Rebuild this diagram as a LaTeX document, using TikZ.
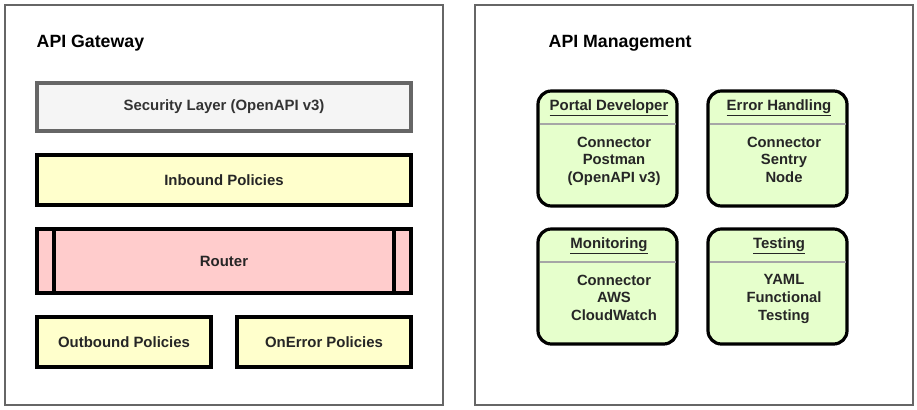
\documentclass[tikz,border=0pt]{standalone}
\usepackage{fontspec}
\setmainfont{Liberation Sans}
\usetikzlibrary{calc}
\begin{document}
\begin{tikzpicture}[x=0.75pt,y=-0.75pt,
  outer/.style={draw=black!60,line width=1.5pt,fill=white},
  layer/.style={draw=black,line width=2.4pt,font=\bfseries\fontsize{11.2}{12}\selectfont,text=black!85},
  card/.style={draw=black,line width=2.4pt,rounded corners=10pt},
  cardtitle/.style={font=\bfseries\fontsize{11.2}{12}\selectfont,text=black!85},
  cardbody/.style={font=\bfseries\fontsize{11.1}{13.3}\selectfont,align=center,text=black!85},
  heading/.style={font=\bfseries\fontsize{13.3}{15}\selectfont,anchor=west}]
\definecolor{cardfill}{HTML}{E6FFCC}
\definecolor{yel}{HTML}{FFFFCC}
\definecolor{pink}{HTML}{FFCCCC}
\definecolor{sec}{HTML}{F5F5F5}
\useasboundingbox (0,0) rectangle (917,410);
% outer panels
\draw[outer] (5,5) rectangle (443,405);
\draw[outer] (475,5) rectangle (913,405);
\node[heading] (gw) at (32,43) {API Gateway};
\node[heading] (mg) at (544,43) {API Management};
% gateway layers
\draw[layer,draw=black!60,fill=sec] (37,83) rectangle (411,131) node[midway,text=black!80] (secl) {Security Layer (OpenAPI v3)};
\draw[layer,fill=yel] (37,155) rectangle (411,205) node[midway] (inb) {Inbound Policies};
\draw[layer,fill=pink] (37,229) rectangle (411,293) node[midway] (rt) {Router};
\draw[line width=2.4pt] (54,229) -- (54,293) (394,229) -- (394,293);
\draw[layer,fill=yel] (37,317) rectangle (211,367) node[midway] (outb) {Outbound Policies};
\draw[layer,fill=yel] (237,317) rectangle (411,367) node[midway] (onerr) {OnError Policies};
% cards
\foreach \nm/\x/\y/\t/\b in {
  pd/538/91/Portal Developer/{Connector\\Postman\\(OpenAPI v3)},
  eh/708/91/Error Handling/{Connector\\Sentry\\Node},
  mo/538/229/Monitoring/{Connector\\AWS\\CloudWatch},
  te/708/229/Testing/{YAML\\Functional\\Testing}}{
  \draw[card,fill=cardfill] (\x,\y) rectangle ++(139,115);
  \node[cardtitle] (\nm-t) at ($(\x,\y)+(71,17)$) {\underline{\t}};
  \draw[black!35,line width=1.2pt] ($(\x,\y)+(1.5,33)$) -- ++(136,0);
  \node[cardbody,anchor=north] (\nm-b) at ($(\x,\y)+(76,41)$) {\b};
}
\end{tikzpicture}
\end{document}
